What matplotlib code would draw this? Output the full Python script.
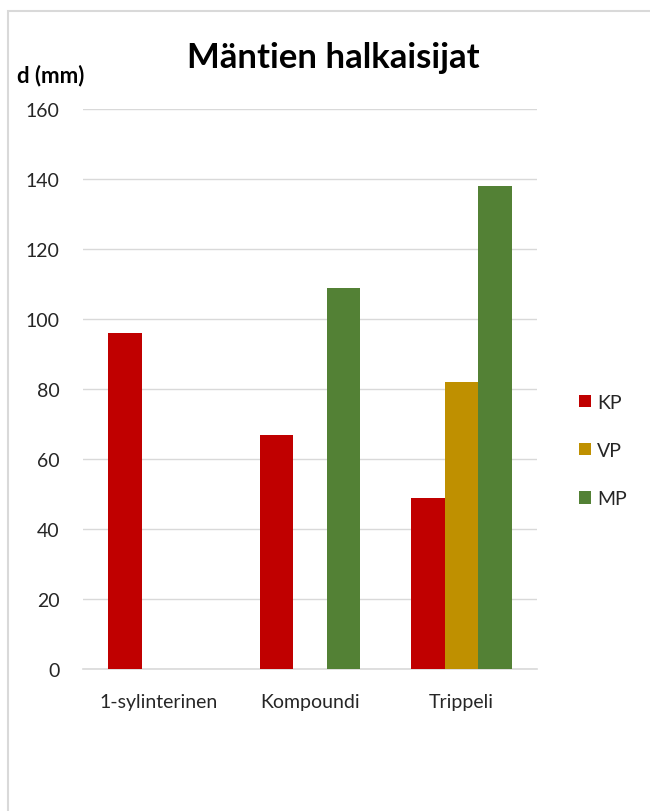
import matplotlib.pyplot as plt
import numpy as np
from matplotlib.patches import Rectangle

categories = ["1-sylinterinen", "Kompoundi", "Trippeli"]
series = ["KP", "VP", "MP"]
kp = [96, 67, 49]
vp = [0, 0, 82]
mp = [0, 109, 138]
colors = ["#C00000", "#BF9000", "#538135"]
yticks = [0, 20, 40, 60, 80, 100, 120, 140, 160]

plt.rcParams['font.family'] = ['Lato', 'DejaVu Sans']

fig = plt.figure(figsize=(6.5, 8.12), dpi=100)
# chart frame (cropped at right/bottom)
fig.patches.append(Rectangle((8 / 650, -0.1), 1.2, 1 - 12 / 812 + 0.1,
                             transform=fig.transFigure, fill=False,
                             edgecolor="#D9D9D9", linewidth=1.5))

ax = fig.add_axes([83 / 650, 1 - 670 / 812, 454 / 650, 560 / 812])

x = np.arange(len(categories))
w = 0.2222
for i, (vals, name) in enumerate(zip([kp, vp, mp], series)):
    ax.bar(x + (i - 1) * w, vals, width=w, color=colors[i], label=name, zorder=3)

ax.set_xlim(-0.5, 2.5)
ax.set_ylim(0, 160)
ax.set_yticks(yticks)
ax.set_xticks(x)
ax.set_xticklabels(categories)
ax.grid(axis='y', color="#D9D9D9", linewidth=1, zorder=0)
for s in ["top", "right", "left"]:
    ax.spines[s].set_visible(False)
ax.spines["bottom"].set_color("#D9D9D9")
ax.spines["bottom"].set_linewidth(1.2)
ax.tick_params(axis='both', length=0, labelsize=14, colors="#262626")
ax.tick_params(axis='y', pad=17)
ax.tick_params(axis='x', pad=17)

fig.text(333 / 650, 1 - 58 / 812, "Mäntien halkaisijat", ha='center', va='center',
         fontsize=25, fontweight='bold', color="black")
fig.text(17 / 650, 1 - 76 / 812, "d (mm)", ha='left', va='center',
         fontsize=16, fontweight='bold', color="black")

ax.legend(loc='center left', bbox_to_anchor=(1.055, 0.39), frameon=False,
          fontsize=14, handlelength=0.6, handleheight=0.6, handletextpad=0.3,
          labelspacing=1.6, labelcolor="#262626")

fig.savefig("out.png", dpi=100)
